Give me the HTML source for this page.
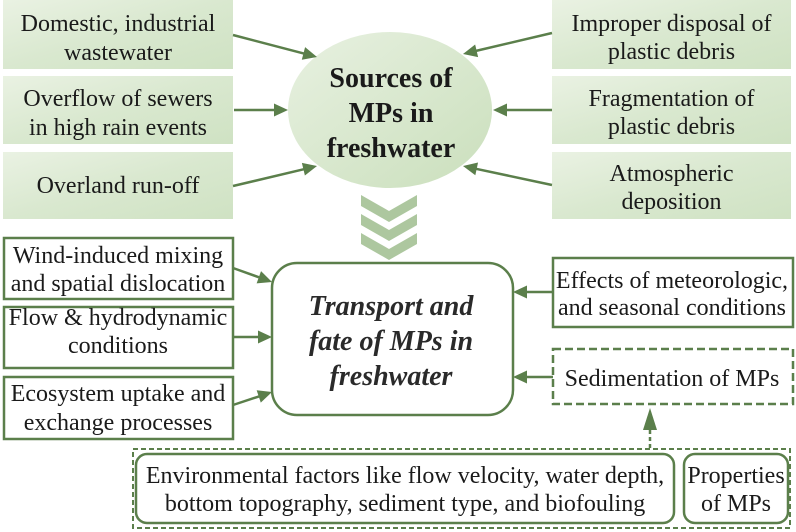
<!DOCTYPE html>
<html><head><meta charset="utf-8"><style>
html,body{margin:0;padding:0;background:#fff;}
#w{position:relative;width:796px;height:532px;overflow:hidden;}
svg{display:block;position:absolute;left:0;top:0;}
.t{position:absolute;font-family:"Liberation Serif","Times New Roman",serif;font-size:24px;line-height:28px;height:28px;text-align:center;white-space:nowrap;color:#1a1a1a;margin-top:1px;}
.b{font-size:28px;line-height:35px;height:35px;font-weight:bold;}
.i{font-style:italic;color:#2a2a2a;}
.L{left:3px;width:230px;}
.R{left:552px;width:239px;}
.C{left:271px;width:240px;}
.E{left:552px;width:240px;}
.N{left:136px;width:538px;}
.P{left:684px;width:104px;}
</style></head><body>
<div id="w">
<svg width="796" height="532" viewBox="0 0 796 532" xmlns="http://www.w3.org/2000/svg">
<defs>
<linearGradient id="g" x1="0" y1="0" x2="1" y2="1">
<stop offset="0" stop-color="#eaf2e3"/><stop offset="0.5" stop-color="#d9e8cf"/><stop offset="1" stop-color="#cfe2c3"/>
</linearGradient>
<linearGradient id="ge" x1="0" y1="0" x2="1" y2="1">
<stop offset="0" stop-color="#e8f1e1"/><stop offset="1" stop-color="#cadfbc"/>
</linearGradient>
</defs>

<rect x="3" y="0" width="230" height="69" fill="url(#g)"/>
<rect x="3" y="76" width="230" height="68" fill="url(#g)"/>
<rect x="3" y="152" width="230" height="67" fill="url(#g)"/>
<rect x="552" y="0" width="239" height="69" fill="url(#g)"/>
<rect x="552" y="76" width="239" height="68" fill="url(#g)"/>
<rect x="552" y="152" width="239" height="67" fill="url(#g)"/>

<ellipse cx="390" cy="110" rx="102" ry="78" fill="url(#ge)"/>

<g stroke="#5b7f4b" stroke-width="2.5" fill="none">
<line x1="233" y1="35" x2="304" y2="53.6"/>
<line x1="234" y1="110" x2="275" y2="110"/>
<line x1="233" y1="186" x2="304" y2="169.2"/>
<line x1="552" y1="33" x2="476" y2="50.9"/>
<line x1="552" y1="110" x2="506" y2="110"/>
<line x1="552" y1="185" x2="476" y2="168.8"/>
</g>
<g fill="#5b7f4b">
<polygon points="317,57 305.1,47.16 301.8,59.74"/>
<polygon points="288,110 274,103.5 274,116.5"/>
<polygon points="317,166 304.89,175.56 301.87,162.92"/>
<polygon points="463,54 475.14,44.45 478.12,57.11"/>
<polygon points="493,110 507,103.5 507,116.5"/>
<polygon points="463,166 478.05,162.56 475.33,175.28"/>
</g>

<g fill="#adc79f">
<polygon points="361,195 389,211 417,195 417,206 389,222 361,206"/>
<polygon points="361,214 389,230 417,214 417,225 389,241 361,225"/>
<polygon points="361,233 389,249 417,233 417,244 389,260 361,244"/>
</g>

<g stroke="#5b7f4b" stroke-width="2.5" fill="#fff">
<rect x="4" y="238" width="229" height="61"/>
<rect x="4" y="307" width="229" height="61"/>
<rect x="4" y="377" width="229" height="62"/>
<rect x="272" y="263" width="241" height="152" rx="25"/>
<rect x="553" y="258" width="240" height="69"/>
</g>
<rect x="553" y="349" width="240" height="55" fill="#fff" stroke="#5b7f4b" stroke-width="2.5" stroke-dasharray="8,4"/>

<g stroke="#5b7f4b" stroke-width="2.5" fill="none">
<line x1="233" y1="268" x2="259" y2="277.3"/>
<line x1="233" y1="337" x2="259" y2="337"/>
<line x1="233" y1="405" x2="259" y2="396.4"/>
<line x1="553" y1="292" x2="526" y2="292"/>
<line x1="553" y1="377" x2="526" y2="377"/>
<line x1="650" y1="448" x2="650" y2="429" stroke-dasharray="4,3"/>
</g>
<g fill="#5b7f4b">
<polygon points="272,282 256.63,283.39 261.03,271.15"/>
<polygon points="272,337 258,330.5 258,343.5"/>
<polygon points="272,392 260.78,402.6 256.66,390.26"/>
<polygon points="513,292 527,285.5 527,298.5"/>
<polygon points="513,377 527,370.5 527,383.5"/>
<polygon points="650,408 643,430 657,430"/>
</g>

<rect x="133" y="449" width="657" height="79" fill="none" stroke="#5b7f4b" stroke-width="2" stroke-dasharray="5,3"/>
<g stroke="#5b7f4b" stroke-width="2.5" fill="#fff">
<rect x="136" y="454" width="538" height="69" rx="11"/>
<rect x="684" y="454" width="104" height="69" rx="11"/>
</g>
</svg>

<div class="t L" style="top:9px">Domestic, industrial</div>
<div class="t L" style="top:38px">wastewater</div>
<div class="t L" style="top:84px">Overflow of sewers</div>
<div class="t L" style="top:113px">in high rain events</div>
<div class="t L" style="top:171px">Overland run-off</div>

<div class="t R" style="top:9px">Improper disposal of</div>
<div class="t R" style="top:37px">plastic debris</div>
<div class="t R" style="top:84px">Fragmentation of</div>
<div class="t R" style="top:112px">plastic debris</div>
<div class="t R" style="top:159px">Atmospheric</div>
<div class="t R" style="top:187px">deposition</div>

<div class="t b C" style="top:60px">Sources of</div>
<div class="t b C" style="top:95px">MPs in</div>
<div class="t b C" style="top:130px">freshwater</div>

<div class="t L" style="top:241px">Wind-induced mixing</div>
<div class="t L" style="top:269px">and spatial dislocation</div>
<div class="t L" style="top:303px">Flow &amp; hydrodynamic</div>
<div class="t L" style="top:331px">conditions</div>
<div class="t L" style="top:379px">Ecosystem uptake and</div>
<div class="t L" style="top:408px">exchange processes</div>

<div class="t b i C" style="top:288px">Transport and</div>
<div class="t b i C" style="top:323px">fate of MPs in</div>
<div class="t b i C" style="top:358px">freshwater</div>

<div class="t E" style="top:266px">Effects of meteorologic,</div>
<div class="t E" style="top:293px">and seasonal conditions</div>
<div class="t E" style="top:364px">Sedimentation of MPs</div>

<div class="t N" style="top:461px">Environmental factors like flow velocity, water depth,</div>
<div class="t N" style="top:489px">bottom topography, sediment type, and biofouling</div>
<div class="t P" style="top:461px">Properties</div>
<div class="t P" style="top:489px">of MPs</div>
</div>
</body></html>
